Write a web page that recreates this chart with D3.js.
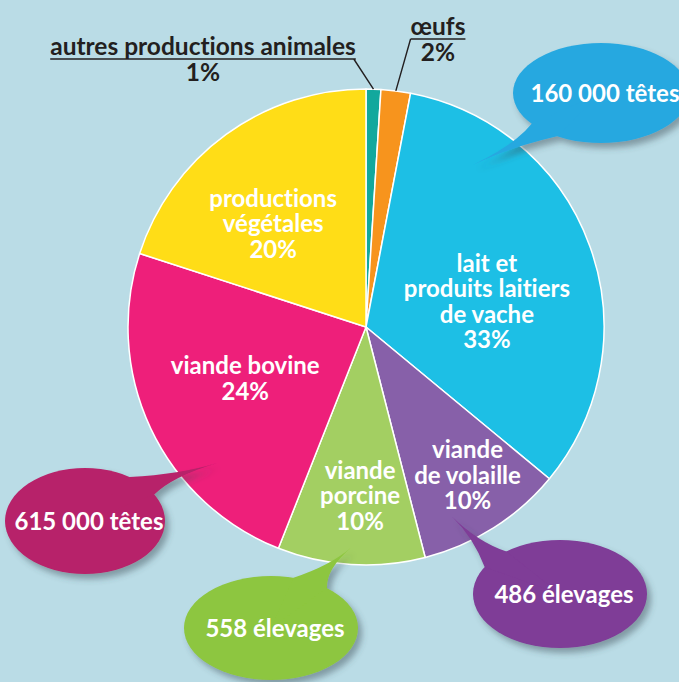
<!DOCTYPE html>
<html>
<head>
<meta charset="utf-8">
<script src="https://cdn.jsdelivr.net/npm/d3@7"></script>
<style>
  html, body { margin: 0; padding: 0; background: #badce6; }
  svg { display: block; }
  text { font-family: "Lato", "Open Sans", sans-serif; font-weight: 700; font-variant-ligatures: none; }
</style>
</head>
<body>
<div id="chart"></div>
<script>
"use strict";

/* ── Data ── */
const categories = [
  "autres productions animales",
  "œufs",
  "lait et produits laitiers de vache",
  "viande de volaille",
  "viande porcine",
  "viande bovine",
  "productions végétales"
];
const shares = [1, 2, 33, 10, 10, 24, 20];
const labelLines = [
  ["autres productions animales"],
  ["œufs"],
  ["lait et", "produits laitiers", "de vache"],
  ["viande", "de volaille"],
  ["viande", "porcine"],
  ["viande bovine"],
  ["productions", "végétales"]
];
const sliceColours = ["#12a89d", "#f7941d", "#1dbfe5", "#8760a9", "#a3cf62", "#ee1f7a", "#ffdd17"];

const bubbleTexts  = ["160 000 têtes", "486 élevages", "558 élevages", "615 000 têtes"];
const bubbleSlices = [2, 3, 4, 5];
const bubbleColours = ["#27a8e0", "#7f3c97", "#8dc63f", "#b7216a"];

/* ── Layout ── */
const W = 679, H = 682;
const cx = 366, cy = 327, R = 238;
const lineH = 25.5, fs = 24;

// inside labels: [radius fraction, angle shift in degrees] (null → outside label)
const insidePos = [null, null, [0.519, 8], [0.755, -2], [0.71, -1.6], [0.552, 2], [0.583, -6]];
// outside labels: text centre x, first baseline y
const outsidePos = [[203, 55], [438, 35]];

// speech bubbles: ellipse centre / radii, tail tip (angle°, radius fraction), tail base (ellipse params in °)
const bubbleLayout = [
  { x: 601, y: 93,  rx: 88, ry: 50, tip: [33.4, 0.815],  base: [120, 142] },
  { x: 560, y: 594, rx: 87, ry: 54, tip: [155.6, 0.874], base: [210, 232] },
  { x: 271, y: 628, rx: 87, ry: 52, tip: [184, 0.931],   base: [285, 310] },
  { x: 85,  y: 521, rx: 80, ry: 53, tip: [227.6, 0.847], base: [304, 330] }
];

const rad = a => a * Math.PI / 180;
const polar = (deg, r) => [cx + r * Math.sin(rad(deg)), cy - r * Math.cos(rad(deg))];

const svg = d3.select("#chart").append("svg")
  .attr("width", W).attr("height", H);

svg.append("rect").attr("width", W).attr("height", H).attr("fill", "#badce6");

const defs = svg.append("defs");
const shadow = defs.append("filter").attr("id", "shadow")
  .attr("x", "-20%").attr("y", "-20%").attr("width", "150%").attr("height", "150%");
shadow.append("feDropShadow")
  .attr("dx", 4).attr("dy", 5).attr("stdDeviation", 3)
  .attr("flood-color", "#3a4a55").attr("flood-opacity", 0.45);

/* ── Pie ── */
const pie = d3.pie().value(d => d).sort(null);
const arcs = pie(shares);
const arc = d3.arc().innerRadius(0).outerRadius(R);

const g = svg.append("g").attr("transform", `translate(${cx},${cy})`);

g.selectAll("path.slice")
  .data(arcs)
  .join("path")
  .attr("class", "slice")
  .attr("d", arc)
  .attr("fill", (d, i) => sliceColours[i])
  .attr("stroke", "#fff")
  .attr("stroke-width", 1.5)
  .attr("stroke-linejoin", "round");

/* ── Inside labels ── */
arcs.forEach((d, i) => {
  const p = insidePos[i];
  if (!p) return;
  const mid = (d.startAngle + d.endAngle) / 2 * 180 / Math.PI + p[1];
  const [x, y] = polar(mid, p[0] * R);
  const lines = labelLines[i].concat([shares[i] + "%"]);
  const n = lines.length;
  const t = svg.append("text")
    .attr("text-anchor", "middle")
    .attr("fill", "#fff")
    .attr("font-size", fs + "px");
  lines.forEach((s, k) => {
    t.append("tspan")
      .attr("x", x)
      .attr("y", y + (k - (n - 1) / 2) * lineH + 0.35 * fs)
      .text(s);
  });
});

/* ── Outside labels with underline + leader ── */
[0, 1].forEach(i => {
  const d = arcs[i];
  const [tx, ty] = outsidePos[i];
  const t = svg.append("text")
    .attr("text-anchor", "middle")
    .attr("fill", "#231f20")
    .attr("font-size", "24.5px");
  t.append("tspan").attr("x", tx).attr("y", ty).text(labelLines[i][0]);
  t.append("tspan").attr("x", tx).attr("y", ty + 26).text(shares[i] + "%");

  const w = t.node().firstChild.getComputedTextLength();
  const uy = ty + 4;
  const x0 = tx - w / 2, x1 = tx + w / 2;
  const mid = (d.startAngle + d.endAngle) / 2 * 180 / Math.PI;
  const [px, py] = polar(mid, R);
  const joinX = i === 0 ? x1 - 2 : x0;
  svg.append("path")
    .attr("d", `M${x0},${uy}L${x1},${uy}M${joinX},${uy}L${px},${py}`)
    .attr("fill", "none")
    .attr("stroke", "#231f20")
    .attr("stroke-width", 1.4);
});

/* ── Speech bubbles ── */
bubbleLayout.forEach((b, i) => {
  const [tipX, tipY] = polar(b.tip[0], b.tip[1] * R);
  const e = t => [b.x + b.rx * Math.cos(rad(t)), b.y + b.ry * Math.sin(rad(t))];
  const [ax, ay] = e(b.base[0]);
  const [bx, by] = e(b.base[1]);
  const mx = (ax + bx) / 2, my = (ay + by) / 2;

  const bg = svg.append("g").attr("filter", "url(#shadow)");
  bg.append("ellipse")
    .attr("cx", b.x).attr("cy", b.y)
    .attr("rx", b.rx).attr("ry", b.ry)
    .attr("fill", bubbleColours[i]);
  bg.append("path")
    .attr("d", `M${ax},${ay}Q${(mx + tipX) / 2},${(my + tipY) / 2} ${tipX},${tipY}` +
               `Q${(mx * 0.6 + tipX * 0.4)},${(my * 0.6 + tipY * 0.4)} ${bx},${by}` +
               `L${b.x},${b.y}Z`)
    .attr("fill", bubbleColours[i]);

  svg.append("text")
    .attr("x", b.x + 4).attr("y", b.y + 9)
    .attr("text-anchor", "middle")
    .attr("fill", "#fff")
    .attr("font-size", "24px")
    .attr("data-slice", categories[bubbleSlices[i]])
    .text(bubbleTexts[i]);
});
</script>
</body>
</html>
